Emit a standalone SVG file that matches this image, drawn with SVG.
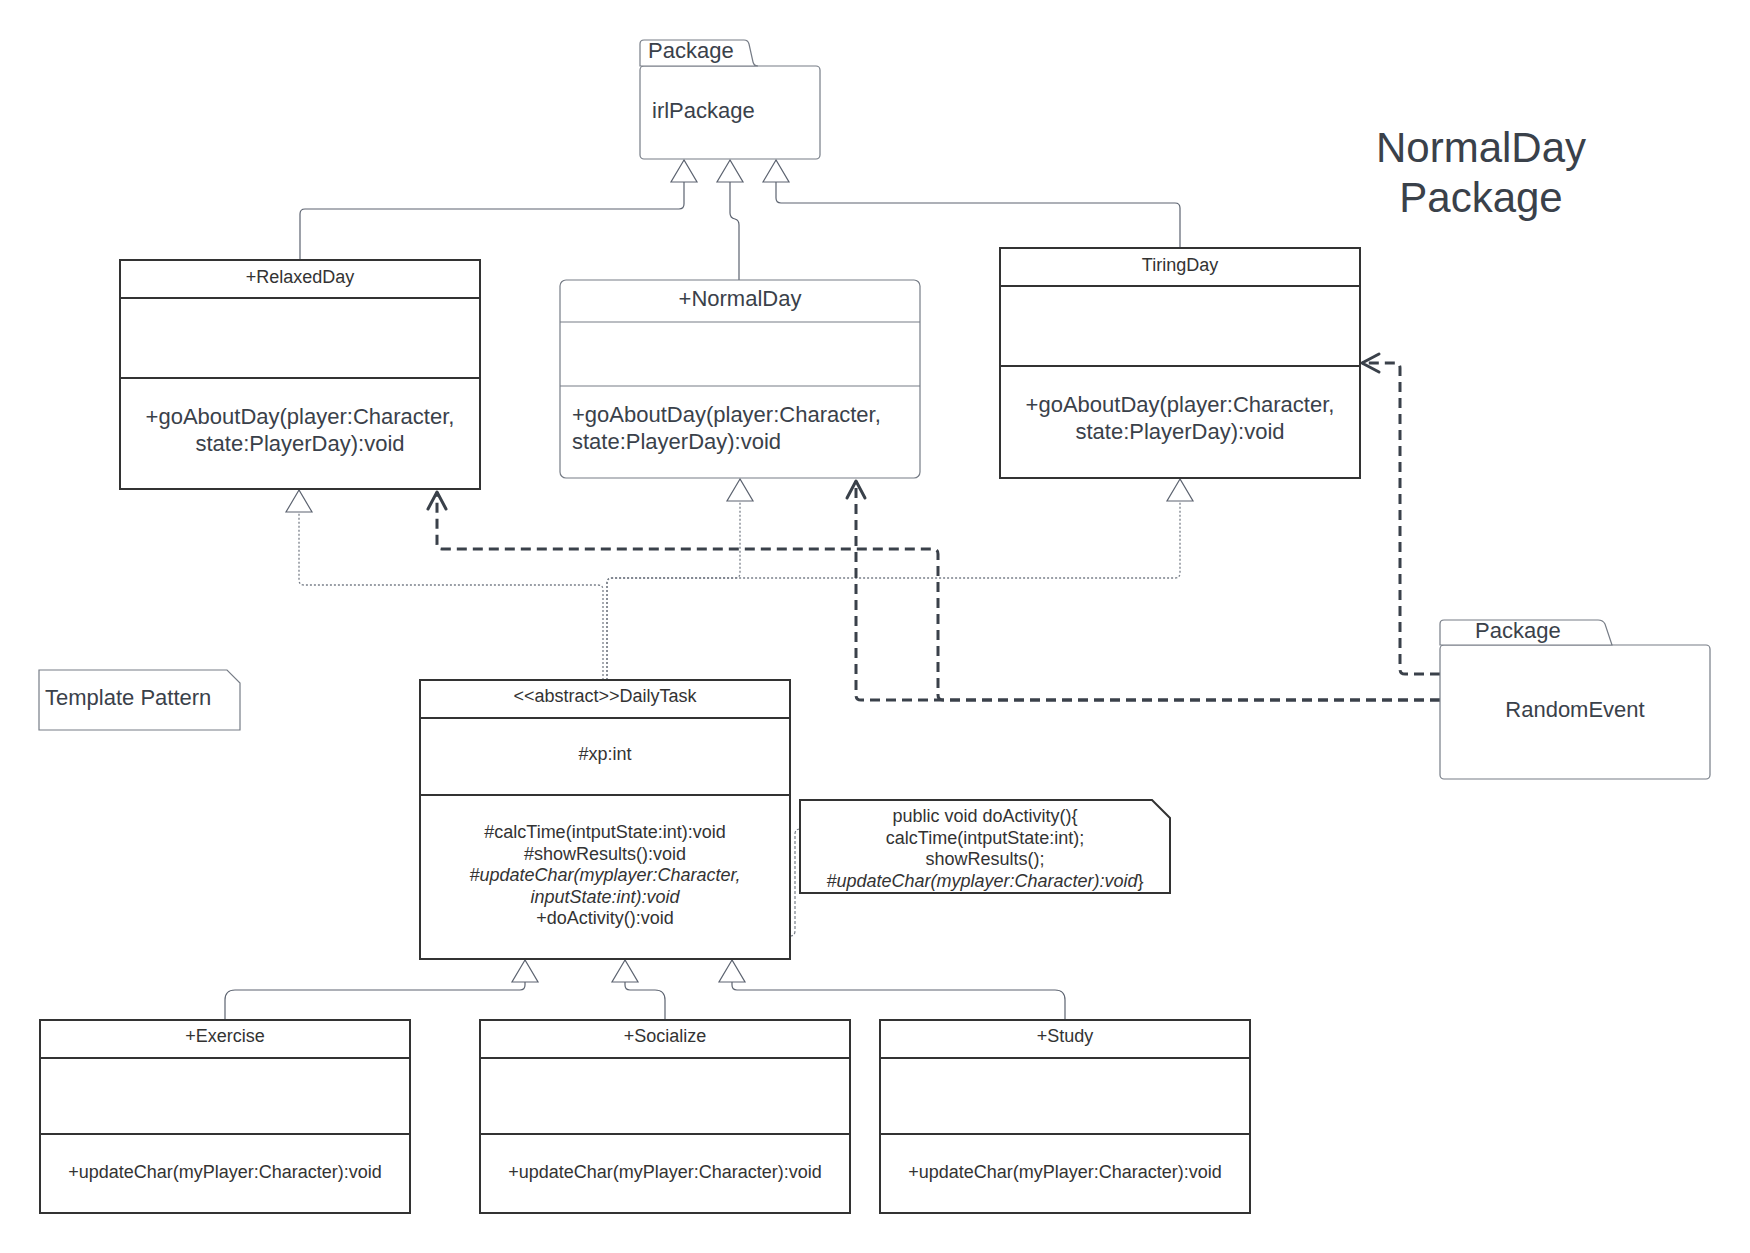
<svg xmlns="http://www.w3.org/2000/svg" width="1750" height="1253" viewBox="0 0 1750 1253">
  <defs>
    <style>
      text { font-family: "Liberation Sans", Arial, sans-serif; }
      .bold { fill: #ffffff; stroke: #333333; stroke-width: 2; }
      .thin { fill: #ffffff; stroke: #767c86; stroke-width: 1.2; }
      .bdiv { stroke: #333333; stroke-width: 2; }
      .tdiv { stroke: #767c86; stroke-width: 1.2; }
      .s18 { font-size: 18px; fill: #333333; }
      .s22 { font-size: 22px; fill: #3a414a; }
      .mid { text-anchor: middle; }
      .it { font-style: italic; }
      .gen { fill: none; stroke: #5c6370; stroke-width: 1.2; }
      .real { fill: none; stroke: #7a808a; stroke-width: 1.3; stroke-dasharray: 2 2; }
      .dep { fill: none; stroke: #3a414a; stroke-width: 3; stroke-dasharray: 10 6; }
      .link { fill: none; stroke: #7a808a; stroke-width: 1.2; stroke-dasharray: 3 2; }
    </style>
    <!-- hollow triangle for generalization / realization -->
    <marker id="tri" markerUnits="userSpaceOnUse" markerWidth="30" markerHeight="30" refX="0" refY="0" orient="auto" style="overflow:visible">
      <path d="M0 0 L-22 -13 L-22 13 Z" fill="#ffffff" stroke="#5c6370" stroke-width="1.2" stroke-dasharray="none"/>
    </marker>
    <!-- open arrowhead for dependency -->
    <marker id="open" markerUnits="userSpaceOnUse" markerWidth="30" markerHeight="30" refX="0" refY="0" orient="auto" style="overflow:visible">
      <path d="M-17 -9 L0 0 L-17 9" fill="none" stroke="#3a414a" stroke-width="3" stroke-dasharray="none" stroke-linecap="round" stroke-linejoin="round"/>
    </marker>
  </defs>

  <rect x="0" y="0" width="1750" height="1253" fill="#ffffff"/>

  <!-- heading -->
  <g id="title">
    <text x="1481" y="162" class="mid" font-size="42" fill="#3a414a">NormalDay</text>
    <text x="1481" y="212" class="mid" font-size="42" fill="#3a414a">Package</text>
  </g>

  <!-- connectors -->
  <g id="connectors">
    <!-- generalization to irlPackage -->
    <path class="gen" d="M300 260 L300 214 Q300 209 305 209 L679 209 Q684 209 684 204 L684 160" marker-end="url(#tri)"/>
    <path class="gen" d="M739 280 L739 225 Q739 220 735 219 Q730 218 730 213 L730 160" marker-end="url(#tri)"/>
    <path class="gen" d="M1180 248 L1180 208 Q1180 203 1175 203 L781 203 Q776 203 776 198 L776 160" marker-end="url(#tri)"/>

    <!-- realization from DailyTask -->
    <path class="real" d="M603 680 L603 590 Q603 585 598 585 L304 585 Q299 585 299 580 L299 490" marker-end="url(#tri)"/>
    <path class="real" d="M607 680 L607 583 Q607 578 612 578 L735 578 Q740 578 740 573 L740 479" marker-end="url(#tri)"/>
    <path class="real" d="M607 680 L607 583 Q607 578 612 578 L1175 578 Q1180 578 1180 573 L1180 479" marker-end="url(#tri)"/>

    <!-- dependencies from RandomEvent -->
    <path class="dep" d="M1440 700 L943 700 Q938 700 938 695 L938 554 Q938 549 933 549 L442 549 Q437 549 437 544 L437 492" marker-end="url(#open)"/>
    <path class="dep" d="M1440 700 L861 700 Q856 700 856 695 L856 481" marker-end="url(#open)"/>
    <path class="dep" d="M1440 674 L1405 674 Q1400 674 1400 669 L1400 368 Q1400 363 1395 363 L1362 363" marker-end="url(#open)"/>

    <!-- generalization to DailyTask -->
    <path class="gen" d="M225 1020 L225 1000 Q225 990 235 990 L520 990 Q525 990 525 985 L525 960" marker-end="url(#tri)"/>
    <path class="gen" d="M665 1020 L665 1000 Q665 990 655 990 L630 990 Q625 990 625 985 L625 960" marker-end="url(#tri)"/>
    <path class="gen" d="M1065 1020 L1065 1000 Q1065 990 1055 990 L737 990 Q732 990 732 985 L732 960" marker-end="url(#tri)"/>

    <!-- note anchor -->
    <path class="link" d="M800 829 Q795 829 795 834 L795 931 Q795 936 790 936"/>
  </g>

  <!-- irlPackage -->
  <g id="irlPackage">
    <rect x="640" y="66" width="180" height="93" rx="4" fill="#ffffff" stroke="#767c86" stroke-width="1.2"/>
    <path d="M640 66 L640 44 Q640 40 644 40 L744 40 Q748 40 749 44 L753 62 Q754 66 758 66 Z" fill="#ffffff" stroke="#767c86" stroke-width="1.2"/>
    <text x="648" y="58" class="s22">Package</text>
    <text x="652" y="118" class="s22">irlPackage</text>
  </g>

  <!-- RelaxedDay -->
  <g id="RelaxedDay">
    <rect x="120" y="260" width="360" height="229" class="bold"/>
    <line x1="120" y1="298" x2="480" y2="298" class="bdiv"/>
    <line x1="120" y1="378" x2="480" y2="378" class="bdiv"/>
    <text x="300" y="283" class="s18 mid">+RelaxedDay</text>
    <text x="300" y="424" class="s22 mid">+goAboutDay(player:Character,</text>
    <text x="300" y="451" class="s22 mid">state:PlayerDay):void</text>
  </g>

  <!-- NormalDay -->
  <g id="NormalDay">
    <rect x="560" y="280" width="360" height="198" rx="6" class="thin"/>
    <line x1="560" y1="322" x2="920" y2="322" class="tdiv"/>
    <line x1="560" y1="386" x2="920" y2="386" class="tdiv"/>
    <text x="740" y="306" class="s22 mid">+NormalDay</text>
    <text x="572" y="422" class="s22">+goAboutDay(player:Character,</text>
    <text x="572" y="449" class="s22">state:PlayerDay):void</text>
  </g>

  <!-- TiringDay -->
  <g id="TiringDay">
    <rect x="1000" y="248" width="360" height="230" class="bold"/>
    <line x1="1000" y1="286" x2="1360" y2="286" class="bdiv"/>
    <line x1="1000" y1="366" x2="1360" y2="366" class="bdiv"/>
    <text x="1180" y="271" class="s18 mid">TiringDay</text>
    <text x="1180" y="412" class="s22 mid">+goAboutDay(player:Character,</text>
    <text x="1180" y="439" class="s22 mid">state:PlayerDay):void</text>
  </g>

  <!-- RandomEvent package -->
  <g id="RandomEvent">
    <rect x="1440" y="645" width="270" height="134" rx="4" fill="#ffffff" stroke="#767c86" stroke-width="1.2"/>
    <path d="M1440 645 L1440 624 Q1440 620 1444 620 L1598 620 Q1603 620 1605 624 L1612 645 Z" fill="#ffffff" stroke="#767c86" stroke-width="1.2"/>
    <text x="1475" y="638" class="s22">Package</text>
    <text x="1575" y="717" class="s22 mid">RandomEvent</text>
  </g>

  <!-- Template Pattern note -->
  <g id="TemplatePattern">
    <path d="M39 670 L227 670 L240 683 L240 730 L39 730 Z" fill="#ffffff" stroke="#767c86" stroke-width="1.2"/>
    <text x="45" y="705" class="s22">Template Pattern</text>
  </g>

  <!-- DailyTask -->
  <g id="DailyTask">
    <rect x="420" y="680" width="370" height="279" class="bold"/>
    <line x1="420" y1="718" x2="790" y2="718" class="bdiv"/>
    <line x1="420" y1="795" x2="790" y2="795" class="bdiv"/>
    <text x="605" y="702" class="s18 mid">&lt;&lt;abstract&gt;&gt;DailyTask</text>
    <text x="605" y="760" class="s18 mid">#xp:int</text>
    <text x="605" y="838" class="s18 mid">#calcTime(intputState:int):void</text>
    <text x="605" y="860" class="s18 mid">#showResults():void</text>
    <text x="605" y="881" class="s18 mid it">#updateChar(myplayer:Character,</text>
    <text x="605" y="903" class="s18 mid it">inputState:int):void</text>
    <text x="605" y="924" class="s18 mid">+doActivity():void</text>
  </g>

  <!-- doActivity note -->
  <g id="doActivityNote">
    <path d="M800 800 L1152 800 L1170 818 L1170 893 L800 893 Z" fill="#ffffff" stroke="#333333" stroke-width="2"/>
    <text x="985" y="822" class="s18 mid">public void doActivity(){</text>
    <text x="985" y="844" class="s18 mid">calcTime(intputState:int);</text>
    <text x="985" y="865" class="s18 mid">showResults();</text>
    <text x="985" y="887" class="s18 mid"><tspan class="it">#updateChar(myplayer:Character):void</tspan>}</text>
  </g>

  <!-- Exercise -->
  <g id="Exercise">
    <rect x="40" y="1020" width="370" height="193" class="bold"/>
    <line x1="40" y1="1058" x2="410" y2="1058" class="bdiv"/>
    <line x1="40" y1="1134" x2="410" y2="1134" class="bdiv"/>
    <text x="225" y="1042" class="s18 mid">+Exercise</text>
    <text x="225" y="1178" class="s18 mid">+updateChar(myPlayer:Character):void</text>
  </g>

  <!-- Socialize -->
  <g id="Socialize">
    <rect x="480" y="1020" width="370" height="193" class="bold"/>
    <line x1="480" y1="1058" x2="850" y2="1058" class="bdiv"/>
    <line x1="480" y1="1134" x2="850" y2="1134" class="bdiv"/>
    <text x="665" y="1042" class="s18 mid">+Socialize</text>
    <text x="665" y="1178" class="s18 mid">+updateChar(myPlayer:Character):void</text>
  </g>

  <!-- Study -->
  <g id="Study">
    <rect x="880" y="1020" width="370" height="193" class="bold"/>
    <line x1="880" y1="1058" x2="1250" y2="1058" class="bdiv"/>
    <line x1="880" y1="1134" x2="1250" y2="1134" class="bdiv"/>
    <text x="1065" y="1042" class="s18 mid">+Study</text>
    <text x="1065" y="1178" class="s18 mid">+updateChar(myPlayer:Character):void</text>
  </g>
</svg>
